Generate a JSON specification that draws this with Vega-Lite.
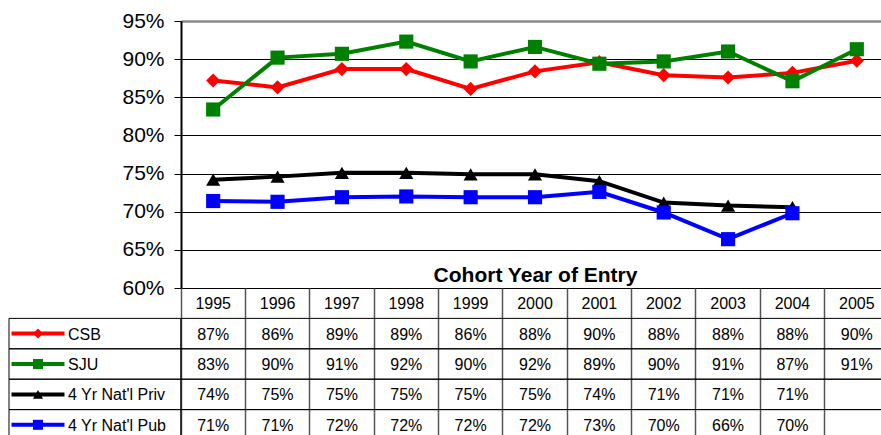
{
  "$schema": "https://vega.github.io/schema/vega-lite/v6.json",
  "background": "white",
  "padding": {"left": 3, "top": 10, "right": 0, "bottom": 0},
  "autosize": {"type": "pad"},
  "config": {"view": {"stroke": null}, "font": "Liberation Sans"},
  "datasets": {
    "grad": [
      {"year": "1995", "series": "CSB", "rate": 0.872},
      {"year": "1996", "series": "CSB", "rate": 0.863},
      {"year": "1997", "series": "CSB", "rate": 0.887},
      {"year": "1998", "series": "CSB", "rate": 0.887},
      {"year": "1999", "series": "CSB", "rate": 0.861},
      {"year": "2000", "series": "CSB", "rate": 0.884},
      {"year": "2001", "series": "CSB", "rate": 0.896},
      {"year": "2002", "series": "CSB", "rate": 0.879},
      {"year": "2003", "series": "CSB", "rate": 0.876},
      {"year": "2004", "series": "CSB", "rate": 0.882},
      {"year": "2005", "series": "CSB", "rate": 0.898},
      {"year": "1995", "series": "SJU", "rate": 0.834},
      {"year": "1996", "series": "SJU", "rate": 0.902},
      {"year": "1997", "series": "SJU", "rate": 0.907},
      {"year": "1998", "series": "SJU", "rate": 0.923},
      {"year": "1999", "series": "SJU", "rate": 0.897},
      {"year": "2000", "series": "SJU", "rate": 0.916},
      {"year": "2001", "series": "SJU", "rate": 0.894},
      {"year": "2002", "series": "SJU", "rate": 0.897},
      {"year": "2003", "series": "SJU", "rate": 0.910},
      {"year": "2004", "series": "SJU", "rate": 0.871},
      {"year": "2005", "series": "SJU", "rate": 0.913},
      {"year": "1995", "series": "4 Yr Nat'l Priv", "rate": 0.742},
      {"year": "1996", "series": "4 Yr Nat'l Priv", "rate": 0.746},
      {"year": "1997", "series": "4 Yr Nat'l Priv", "rate": 0.751},
      {"year": "1998", "series": "4 Yr Nat'l Priv", "rate": 0.751},
      {"year": "1999", "series": "4 Yr Nat'l Priv", "rate": 0.749},
      {"year": "2000", "series": "4 Yr Nat'l Priv", "rate": 0.749},
      {"year": "2001", "series": "4 Yr Nat'l Priv", "rate": 0.740},
      {"year": "2002", "series": "4 Yr Nat'l Priv", "rate": 0.712},
      {"year": "2003", "series": "4 Yr Nat'l Priv", "rate": 0.708},
      {"year": "2004", "series": "4 Yr Nat'l Priv", "rate": 0.706},
      {"year": "1995", "series": "4 Yr Nat'l Pub", "rate": 0.714},
      {"year": "1996", "series": "4 Yr Nat'l Pub", "rate": 0.713},
      {"year": "1997", "series": "4 Yr Nat'l Pub", "rate": 0.719},
      {"year": "1998", "series": "4 Yr Nat'l Pub", "rate": 0.720},
      {"year": "1999", "series": "4 Yr Nat'l Pub", "rate": 0.719},
      {"year": "2000", "series": "4 Yr Nat'l Pub", "rate": 0.719},
      {"year": "2001", "series": "4 Yr Nat'l Pub", "rate": 0.726},
      {"year": "2002", "series": "4 Yr Nat'l Pub", "rate": 0.699},
      {"year": "2003", "series": "4 Yr Nat'l Pub", "rate": 0.664},
      {"year": "2004", "series": "4 Yr Nat'l Pub", "rate": 0.698}
    ]
  },
  "columns": 2,
  "spacing": 0,
  "bounds": "flush",
  "align": "each",
  "concat": [
    {
      "width": 172,
      "height": 267,
      "data": {"values": [{}]},
      "mark": {"type": "text", "text": ""},
      "encoding": {}
    },
    {
      "width": 708,
      "height": 267,
      "data": {"name": "grad"},
      "encoding": {
        "x": {
          "field": "year", "type": "ordinal",
          "scale": {"type": "point", "padding": 0.5},
          "axis": {"title": "Cohort Year of Entry", "orient": "bottom", "labels": false, "ticks": false, "domain": false, "grid": false,
                   "titleY": -7, "titleBaseline": "alphabetic", "titleFontSize": 21, "titleFontWeight": "bold", "titleColor": "black"}
        },
        "y": {
          "field": "rate", "type": "quantitative",
          "scale": {"domain": [0.6, 0.95], "nice": false, "zero": false},
          "axis": {
            "title": null,
            "values": [0.6, 0.65, 0.7, 0.75, 0.8, 0.85, 0.9, 0.95],
            "format": ".0%",
            "labelFontSize": 21, "labelColor": "black", "labelPadding": 10,
            "tickSize": 7, "tickColor": "black", "tickWidth": 1,
            "domainColor": "black", "domainWidth": 2,
            "grid": true, "gridOpacity": 1,
            "gridColor": {"condition": {"test": "datum.value > 0.94", "value": "#888888"}, "value": "black"},
            "gridWidth": {"condition": {"test": "datum.value > 0.94", "value": 2.5}, "value": 1}
          }
        },
        "color": {
          "field": "series", "type": "nominal",
          "scale": {"domain": ["CSB", "SJU", "4 Yr Nat'l Priv", "4 Yr Nat'l Pub"], "range": ["#FF0000", "#008000", "#000000", "#0000FF"]},
          "legend": null
        }
      },
      "layer": [
        {"mark": {"type": "line", "strokeWidth": 4}},
        {
          "mark": {"type": "point", "filled": true, "size": 200, "opacity": 1},
          "encoding": {
            "shape": {
              "field": "series", "type": "nominal",
              "scale": {"domain": ["CSB", "SJU", "4 Yr Nat'l Priv", "4 Yr Nat'l Pub"], "range": ["diamond", "square", "triangle-up", "square"]},
              "legend": null
            }
          }
        }
      ]
    },
    {
      "width": 172,
      "height": 152,
      "data": {"name": "grad"},
      "transform": [{"filter": "datum.year == '1995'"}],
      "encoding": {
        "y": {
          "field": "series", "type": "nominal",
          "scale": {"domain": ["header", "CSB", "SJU", "4 Yr Nat'l Priv", "4 Yr Nat'l Pub"], "paddingInner": 0, "paddingOuter": 0},
          "axis": null
        }
      },
      "layer": [
        {"mark": {"type": "rect", "fillOpacity": 0, "stroke": "black", "strokeWidth": 1}},
        {
          "mark": {"type": "point", "shape": "M-1,0H1", "size": 2809, "filled": false, "strokeWidth": 4, "xOffset": -57, "opacity": 1},
          "encoding": {
            "color": {
              "field": "series", "type": "nominal",
              "scale": {"domain": ["CSB", "SJU", "4 Yr Nat'l Priv", "4 Yr Nat'l Pub"], "range": ["#FF0000", "#008000", "#000000", "#0000FF"]},
              "legend": null
            }
          }
        },
        {
          "mark": {"type": "point", "filled": true, "size": 100, "xOffset": -57, "opacity": 1},
          "encoding": {
            "color": {
              "field": "series", "type": "nominal",
              "scale": {"domain": ["CSB", "SJU", "4 Yr Nat'l Priv", "4 Yr Nat'l Pub"], "range": ["#FF0000", "#008000", "#000000", "#0000FF"]},
              "legend": null
            },
            "shape": {
              "field": "series", "type": "nominal",
              "scale": {"domain": ["CSB", "SJU", "4 Yr Nat'l Priv", "4 Yr Nat'l Pub"], "range": ["diamond", "square", "triangle-up", "square"]},
              "legend": null
            }
          }
        },
        {
          "mark": {"type": "text", "align": "left", "dx": -27, "dy": 1, "fontSize": 16, "color": "black", "baseline": "middle"},
          "encoding": {"text": {"field": "series", "type": "nominal"}}
        }
      ]
    },
    {
      "width": 708,
      "height": 152,
      "data": {"name": "grad"},
      "encoding": {
        "x": {
          "field": "year", "type": "nominal",
          "scale": {"type": "band", "paddingInner": 0, "paddingOuter": 0, "domain": ["1995", "1996", "1997", "1998", "1999", "2000", "2001", "2002", "2003", "2004", "2005"]},
          "axis": {"orient": "top", "labels": false, "ticks": false, "domain": false, "title": null, "grid": true, "bandPosition": 0, "gridColor": "#555555", "gridWidth": 1.5, "gridOpacity": 1}
        },
        "y": {
          "field": "series", "type": "nominal",
          "scale": {"domain": ["header", "CSB", "SJU", "4 Yr Nat'l Priv", "4 Yr Nat'l Pub"], "paddingInner": 0, "paddingOuter": 0},
          "axis": null
        }
      },
      "layer": [
        {
          "transform": [{"filter": "datum.year == '1995'"}],
          "mark": {"type": "rect", "fillOpacity": 0, "stroke": "black", "strokeWidth": 1},
          "encoding": {"x": null}
        },
        {
          "mark": {"type": "text", "fontSize": 16, "color": "black", "baseline": "middle", "dy": 1},
          "encoding": {"text": {"field": "rate", "type": "quantitative", "format": ".0%"}}
        },
        {
          "transform": [{"filter": "datum.series == 'CSB'"}],
          "mark": {"type": "text", "fontSize": 16, "color": "black", "baseline": "middle", "dy": 1},
          "encoding": {"y": {"datum": "header", "type": "nominal"}, "text": {"field": "year", "type": "nominal"}}
        }
      ]
    }
  ]
}
